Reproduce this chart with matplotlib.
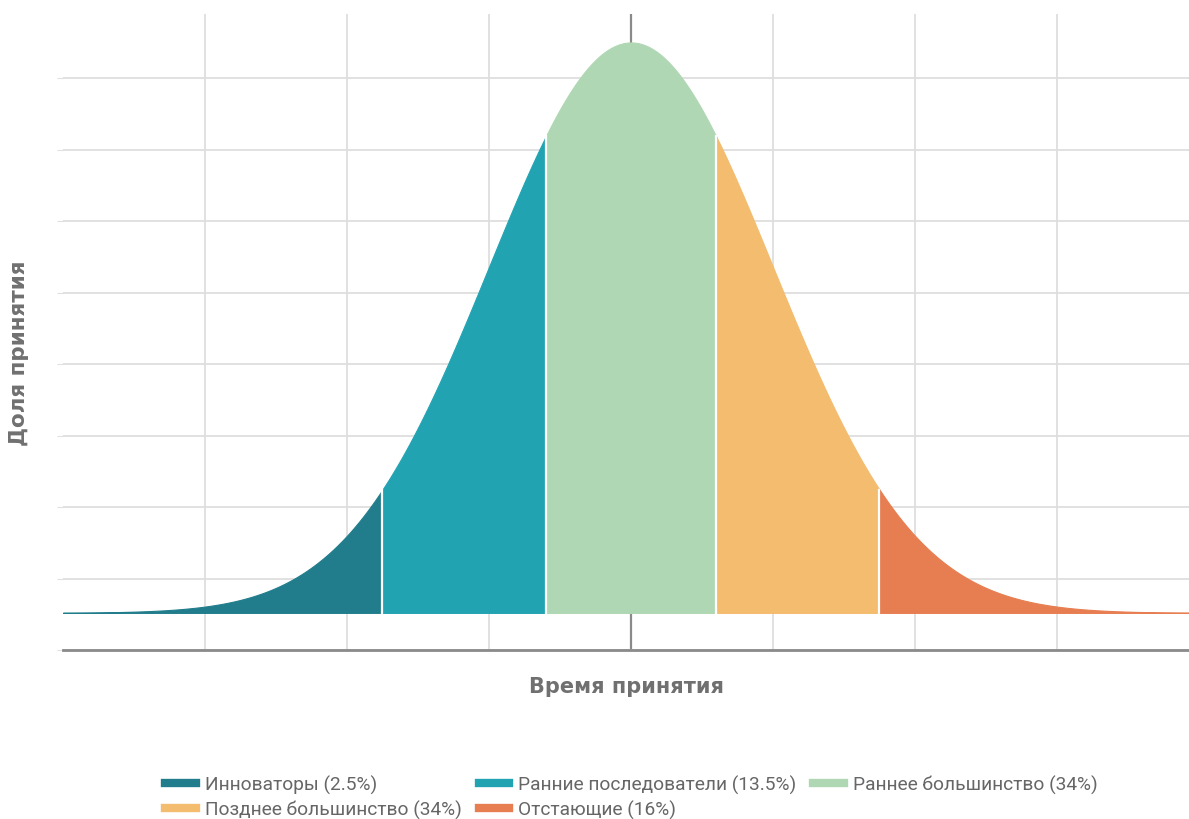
import numpy as np
import matplotlib.pyplot as plt
from matplotlib.lines import Line2D

plt.rcParams['font.family'] = ['Roboto', 'DejaVu Sans']

# adoption segments (boundaries in standard deviations)
labels = ['Инноваторы (2.5%)', 'Ранние последователи (13.5%)', 'Раннее большинство (34%)',
          'Позднее большинство (34%)', 'Отстающие (16%)']
bounds = [-4.0, -1.75, -0.6, 0.6, 1.75, 3.93]
colors = ['#217d8c', '#22a3b2', '#b0d7b4', '#f3bc6f', '#e77e51']
mean, sd = 0.0, 1.0

xgrid = [-3, -2, -1, 1, 2, 3]
ygrid = [-0.026, 0.024, 0.074, 0.124, 0.174, 0.224, 0.274, 0.324, 0.374]


def pdf(x):
    return np.exp(-0.5 * ((x - mean) / sd) ** 2) / (sd * np.sqrt(2 * np.pi))


fig = plt.figure(figsize=(11.89, 8.2), dpi=100)
ax = fig.add_axes([0.053, 0.206, 0.947, 0.776])

for i in range(len(labels)):
    xs = np.linspace(bounds[i], bounds[i + 1], 200)
    ax.fill_between(xs, 0, pdf(xs), facecolor=colors[i], edgecolor=colors[i], lw=0.8, zorder=3)

# thin white separators between segments
for b in bounds[1:-1]:
    ax.plot([b, b], [0, pdf(b)], color='white', lw=1.6, zorder=4)

ax.set_xlim(bounds[0], bounds[-1])
ax.set_ylim(-0.026, 0.419)
ax.set_xticks(xgrid)
ax.set_yticks(ygrid)
ax.tick_params(axis='both', labelleft=False, labelbottom=False)
ax.tick_params(axis='x', length=0)
ax.tick_params(axis='y', length=4, color='#e0e0e0')
ax.grid(True, color='#dedede', lw=1.3, zorder=0)
ax.axvline(0, color='#8a8a8a', lw=1.6, zorder=1)

for s in ['top', 'right', 'left']:
    ax.spines[s].set_visible(False)
ax.spines['bottom'].set_color('#8a8a8a')
ax.spines['bottom'].set_linewidth(2)

ax.set_xlabel('Время принятия', fontsize=15, fontweight='bold', color='#707070',
              family='DejaVu Sans')
ax.xaxis.set_label_coords(0.5, -0.040)
ax.set_ylabel('Доля принятия', fontsize=15.5, fontweight='bold', color='#707070',
              family='DejaVu Sans')
ax.yaxis.set_label_coords(-0.030, 0.468)

handles = [Line2D([0], [0], color=c, lw=6) for c in colors]
order = [0, 3, 1, 4, 2]
fig.legend([handles[i] for i in order], [labels[i] for i in order],
           loc='center', bbox_to_anchor=(0.531, 0.027), ncol=3, frameon=False,
           fontsize=13.8, handlelength=1.6, handletextpad=0.45, columnspacing=0.9,
           labelspacing=0.35, labelcolor='#666666')

fig.savefig('out.png', dpi=100)
